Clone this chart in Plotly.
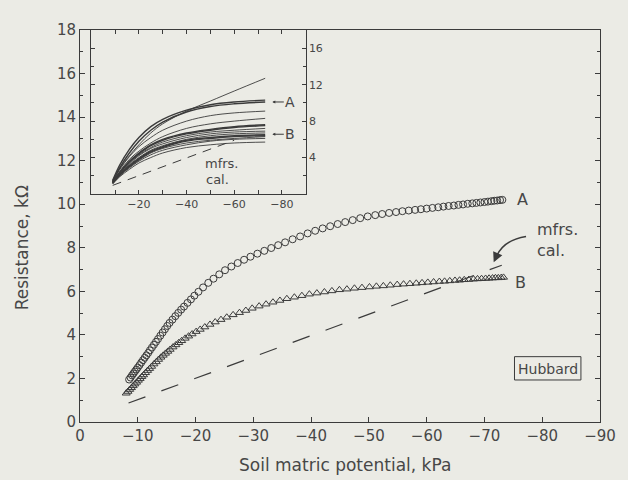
import plotly.graph_objects as go

# ---------------- data ----------------
A_X = [-8.5, -8.75, -9.0, -9.25, -9.5, -9.75, -10.0, -10.3, -10.6, -10.9, -11.2, -11.5, -11.8, -12.1,
       -12.45, -12.8, -13.15, -13.5, -13.9, -14.3, -14.7, -15.1, -15.5, -16.0, -16.5, -17.0, -17.5,
       -18.0, -18.6, -19.2, -19.8, -20.5, -21.3, -22.2, -23.1, -24.1, -25.1, -26.2, -27.3, -28.4,
       -29.5, -30.7, -31.9, -33.1, -34.3, -35.5, -36.8, -38.1, -39.4, -40.7, -42.0, -43.3, -44.6,
       -45.9, -47.2, -48.5, -49.8, -51.1, -52.3, -53.5, -54.7, -55.8, -56.9, -58.0, -59.0, -60.0,
       -61.0, -62.0, -62.9, -63.8, -64.7, -65.5, -66.3, -67.1, -67.9, -68.6, -69.3, -70.0, -70.6,
       -71.2, -71.7, -72.2, -72.7, -73.1]
A_Y = [1.95, 2.04, 2.14, 2.23, 2.32, 2.41, 2.50, 2.61, 2.73, 2.84, 2.95, 3.06, 3.17, 3.29,
       3.42, 3.55, 3.68, 3.81, 3.96, 4.11, 4.26, 4.41, 4.55, 4.70, 4.86, 5.01, 5.16,
       5.30, 5.47, 5.63, 5.80, 5.98, 6.18, 6.39, 6.58, 6.78, 6.97, 7.14, 7.30, 7.45,
       7.59, 7.73, 7.86, 7.99, 8.12, 8.25, 8.39, 8.52, 8.66, 8.78, 8.89, 8.99, 9.09,
       9.18, 9.27, 9.36, 9.44, 9.50, 9.55, 9.60, 9.64, 9.68, 9.71, 9.74, 9.77, 9.80,
       9.83, 9.86, 9.89, 9.92, 9.94, 9.97, 9.99, 10.02, 10.04, 10.06, 10.08, 10.10, 10.12,
       10.14, 10.16, 10.17, 10.19, 10.20]

B_X = [-8.0, -8.3, -8.6, -8.9, -9.2, -9.5, -9.8, -10.1, -10.4, -10.7, -11.0, -11.35, -11.7, -12.05,
       -12.4, -12.8, -13.2, -13.6, -14.0, -14.4, -14.8, -15.2, -15.6, -16.1, -16.6, -17.1, -17.6,
       -18.2, -18.8, -19.4, -20.1, -20.8, -21.6, -22.5, -23.4, -24.4, -25.4, -26.5, -27.6, -28.7,
       -29.8, -31.0, -32.2, -33.4, -34.6, -35.8, -37.1, -38.4, -39.7, -41.0, -42.3, -43.6, -44.9,
       -46.2, -47.5, -48.8, -50.1, -51.3, -52.5, -53.7, -54.9, -56.0, -57.1, -58.2, -59.2, -60.2,
       -61.2, -62.2, -63.1, -64.0, -64.9, -65.7, -66.5, -67.3, -68.1, -68.8, -69.5, -70.2, -70.8,
       -71.4, -71.9, -72.4, -72.9, -73.3]
B_Y = [1.32, 1.40, 1.49, 1.57, 1.66, 1.74, 1.82, 1.91, 1.99, 2.08, 2.16, 2.26, 2.36, 2.45,
       2.55, 2.66, 2.76, 2.87, 2.97, 3.06, 3.15, 3.24, 3.33, 3.44, 3.54, 3.64, 3.73,
       3.84, 3.94, 4.04, 4.15, 4.25, 4.36, 4.48, 4.59, 4.70, 4.81, 4.92, 5.02, 5.12,
       5.22, 5.32, 5.41, 5.50, 5.58, 5.66, 5.73, 5.80, 5.87, 5.92, 5.97, 6.02, 6.07,
       6.10, 6.14, 6.17, 6.20, 6.23, 6.25, 6.28, 6.31, 6.33, 6.35, 6.37, 6.39, 6.41,
       6.43, 6.45, 6.46, 6.48, 6.50, 6.51, 6.53, 6.54, 6.56, 6.57, 6.58, 6.59, 6.60,
       6.61, 6.62, 6.62, 6.63, 6.64]

MFRS_X = [-8.4, -73.0]
MFRS_Y = [0.87, 7.2]

# inset: many sensors
INSET_X = [-9, -12, -16, -20, -25, -30, -40, -50, -60, -73]
C_TOP = [1.4, 2.8, 4.2, 5.4, 6.7, 7.7, 9.1, 10.2, 11.3, 12.7]
C_A1 = [1.5, 3.2, 4.9, 6.2, 7.4, 8.2, 9.2, 9.8, 10.1, 10.3]
C_A2 = [1.4, 2.9, 4.5, 5.8, 7.0, 7.9, 9.0, 9.6, 9.9, 10.1]
C_91 = [1.4, 2.7, 4.1, 5.2, 6.2, 7.0, 8.0, 8.6, 8.9, 9.1]
C_83 = [1.35, 2.5, 3.8, 4.7, 5.6, 6.3, 7.2, 7.7, 8.0, 8.3]
C_76 = [1.3, 2.4, 3.6, 4.5, 5.4, 6.0, 6.7, 7.1, 7.4, 7.6]
C_75 = [1.3, 2.35, 3.5, 4.4, 5.3, 5.9, 6.6, 7.0, 7.3, 7.5]
C_72 = [1.3, 2.3, 3.4, 4.3, 5.1, 5.7, 6.4, 6.8, 7.0, 7.2]
C_69 = [1.25, 2.25, 3.3, 4.2, 5.0, 5.5, 6.2, 6.6, 6.8, 6.9]
C_67 = [1.25, 2.2, 3.2, 4.0, 4.8, 5.3, 6.0, 6.4, 6.6, 6.7]
C_B1 = [1.2, 2.15, 3.1, 3.9, 4.7, 5.2, 5.9, 6.2, 6.4, 6.5]
C_B2 = [1.2, 2.1, 3.0, 3.8, 4.6, 5.1, 5.8, 6.1, 6.3, 6.4]
C_63 = [1.2, 2.05, 2.95, 3.7, 4.5, 5.0, 5.6, 5.9, 6.1, 6.3]
C_61 = [1.15, 2.0, 2.85, 3.6, 4.3, 4.8, 5.4, 5.8, 6.0, 6.1]
C_57 = [1.1, 1.9, 2.7, 3.4, 4.0, 4.5, 5.1, 5.4, 5.6, 5.7]
INSET_MFRS_X = [-9, -60]
INSET_MFRS_Y = [0.95, 5.9]

MAIN_TICKS = [0, -10, -20, -30, -40, -50, -60, -70, -80, -90]
INSET_XTICKS = [-20, -40, -60, -80]
INSET_YTICKS = [4, 8, 12, 16]

# ---------------- styling ----------------
INK = "#3b3b3b"
TXT = "#474747"
BG = "#ebebe5"
FONT = "DejaVu Sans"

fig = go.Figure()

fig.add_trace(go.Scatter(x=MFRS_X, y=MFRS_Y, mode="lines",
                         line=dict(color=INK, width=1.2, dash="18px,17px"),
                         xaxis="x", yaxis="y", showlegend=False))
fig.add_trace(go.Scatter(x=A_X, y=A_Y, mode="markers",
                         marker=dict(symbol="circle-open", size=7, color=INK, line=dict(width=1)),
                         xaxis="x", yaxis="y", showlegend=False))
fig.add_trace(go.Scatter(x=B_X, y=B_Y, mode="markers",
                         marker=dict(symbol="triangle-up-open", size=7, color=INK, line=dict(width=1)),
                         xaxis="x", yaxis="y", showlegend=False))

inset_curves = [C_TOP, C_A1, C_A2, C_91, C_83, C_76, C_75, C_72, C_69, C_67, C_B1, C_B2, C_63, C_61, C_57]
thick = {1, 2, 5, 6, 10, 11}
for i, c in enumerate(inset_curves):
    fig.add_trace(go.Scatter(x=INSET_X, y=c, mode="lines", line_shape="spline",
                             line=dict(color=INK, width=1.4 if i in thick else 0.9),
                             xaxis="x2", yaxis="y2", showlegend=False))
fig.add_trace(go.Scatter(x=INSET_MFRS_X, y=INSET_MFRS_Y, mode="lines",
                         line=dict(color=INK, width=1.0, dash="9px,7px"),
                         xaxis="x2", yaxis="y2", showlegend=False))

tickfont = dict(family=FONT, size=15, color=TXT)
small = dict(family=FONT, size=11, color=TXT)

fig.update_layout(
    width=628, height=480,
    margin=dict(l=80, r=16, t=30, b=58),
    paper_bgcolor=BG, plot_bgcolor=BG,
    font=dict(family=FONT, color=TXT),
    xaxis=dict(domain=[0, 1], range=[0, -90], tickvals=MAIN_TICKS, ticks="inside", ticklen=5,
               tickcolor=INK, showline=True, linecolor=INK, linewidth=1, mirror=True,
               showgrid=False, zeroline=False, tickfont=tickfont, anchor="y"),
    yaxis=dict(domain=[0, 1], range=[0, 18], dtick=2, tick0=0, ticks="inside", ticklen=5,
               tickcolor=INK, showline=True, linecolor=INK, linewidth=1, mirror="ticks",
               showgrid=False, zeroline=False, tickfont=tickfont, anchor="x",
               minor=dict(dtick=1, ticks="inside", ticklen=3, tickcolor=INK, showgrid=False)),
    xaxis2=dict(domain=[0.0216, 0.434], range=[0, -90], tickvals=INSET_XTICKS, ticks="inside",
                ticklen=4, tickcolor=INK, showline=True, linecolor=INK, linewidth=1, mirror="ticks",
                showgrid=False, zeroline=False, tickfont=small, anchor="y2",
                minor=dict(dtick=10, tick0=0, ticks="inside", ticklen=4, tickcolor=INK, showgrid=False)),
    yaxis2=dict(domain=[0.5816, 1], range=[0, 18], tickvals=INSET_YTICKS, side="right", ticks="inside",
                ticklen=4, tickcolor=INK, showline=True, linecolor=INK, linewidth=1, mirror="ticks",
                showgrid=False, zeroline=False, tickfont=small, anchor="x2",
                minor=dict(dtick=2, tick0=0, ticks="inside", ticklen=3, tickcolor=INK, showgrid=False)),
)

ann = []
# axis titles
ann.append(dict(text="Soil matric potential, kPa", xref="paper", yref="paper", x=0.51, y=-0.11,
                xanchor="center", yanchor="middle", showarrow=False,
                font=dict(family=FONT, size=17, color=TXT)))
ann.append(dict(text="Resistance, kΩ", xref="paper", yref="paper", x=-0.112, y=0.445,
                xanchor="center", yanchor="middle", textangle=-90, showarrow=False,
                font=dict(family=FONT, size=17, color=TXT)))
# main labels
lab = dict(family=FONT, size=16, color=TXT)
ann.append(dict(text="A", x=-76.5, y=10.2, xref="x", yref="y", showarrow=False, font=lab))
ann.append(dict(text="B", x=-76.3, y=6.39, xref="x", yref="y", showarrow=False, font=lab))
ann.append(dict(text="mfrs.", x=-78.7, y=8.82, xref="x", yref="y", xanchor="left", showarrow=False, font=lab))
ann.append(dict(text="cal.", x=-78.8, y=7.86, xref="x", yref="y", xanchor="left", showarrow=False, font=lab))
ann.append(dict(text="", x=-71.6, y=7.33, xref="x", yref="y", ax=4, ay=-9, showarrow=True,
                arrowhead=2, arrowsize=1, arrowwidth=2, arrowcolor=INK))
ann.append(dict(text="Hubbard", x=-81.0, y=2.45, xref="x", yref="y", showarrow=False,
                font=dict(family=FONT, size=14, color=TXT)))
# inset labels
ann.append(dict(text="A", x=-76.0, y=10.1, xref="x2", yref="y2", ax=18, ay=0, showarrow=True,
                arrowhead=2, arrowsize=0.6, arrowwidth=1, arrowcolor=INK, font=dict(family=FONT, size=14, color=TXT)))
ann.append(dict(text="B", x=-76.0, y=6.56, xref="x2", yref="y2", ax=18, ay=0, showarrow=True,
                arrowhead=2, arrowsize=0.6, arrowwidth=1, arrowcolor=INK, font=dict(family=FONT, size=14, color=TXT)))
ann.append(dict(text="mfrs.", x=-47.0, y=3.4, xref="x2", yref="y2", xanchor="left", showarrow=False,
                font=dict(family=FONT, size=13, color=TXT)))
ann.append(dict(text="cal.", x=-47.5, y=1.6, xref="x2", yref="y2", xanchor="left", showarrow=False,
                font=dict(family=FONT, size=13, color=TXT)))
fig.update_layout(annotations=ann)

fig.update_layout(shapes=[
    dict(type="path", xref="x", yref="y", path="M -77.2,8.52 Q -73.4,8.36 -72.1,7.62",
         line=dict(color=INK, width=1.6)),
    dict(type="rect", xref="x", yref="y", x0=-75.2, x1=-86.7, y0=1.93, y1=3.0,
         line=dict(color=INK, width=1)),
])

fig.write_html("out.html")
